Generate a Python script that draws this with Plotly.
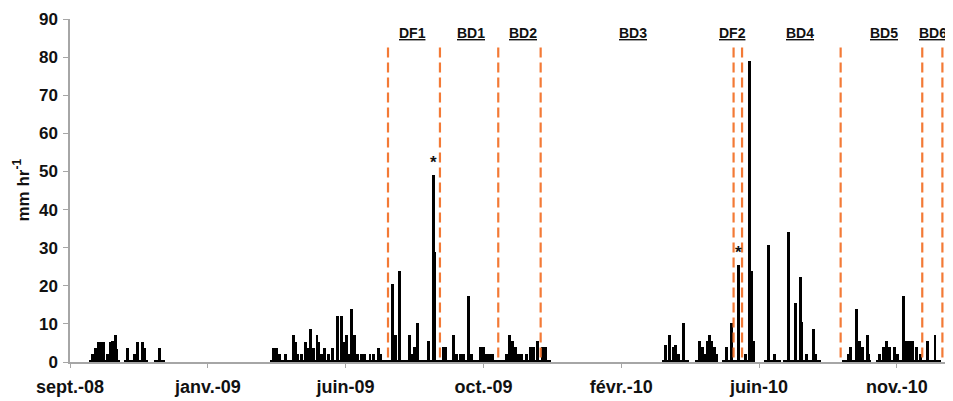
import pandas as pd
import plotly.graph_objects as go

# ---- rainfall intensity bars (mm/hr) ----
bar_dates = [
    # 2008
    "2008-10-07", "2008-10-10", "2008-10-13", "2008-10-16", "2008-10-18", "2008-10-21",
    "2008-10-24", "2008-10-26", "2008-10-29", "2008-10-30", "2008-11-09", "2008-11-16",
    "2008-11-19", "2008-11-23", "2008-11-25", "2008-12-09",
    # 2009
    "2009-03-27", "2009-03-30", "2009-04-02", "2009-04-07", "2009-04-15", "2009-04-17",
    "2009-04-19", "2009-04-22", "2009-04-26", "2009-04-28", "2009-05-01", "2009-05-04",
    "2009-05-07", "2009-05-08", "2009-05-11", "2009-05-14", "2009-05-18", "2009-05-22",
    "2009-05-26", "2009-05-30", "2009-06-02", "2009-06-04", "2009-06-07", "2009-06-09",
    "2009-06-11", "2009-06-14", "2009-06-18", "2009-06-21", "2009-06-26", "2009-06-29",
    "2009-07-04", "2009-07-06", "2009-07-17", "2009-07-20", "2009-07-24", "2009-08-02",
    "2009-08-04", "2009-08-07", "2009-08-10", "2009-08-20", "2009-08-25", "2009-08-26",
    "2009-09-03", "2009-09-05", "2009-09-13", "2009-09-16", "2009-09-19", "2009-09-22",
    "2009-09-27", "2009-09-30", "2009-10-08", "2009-10-11", "2009-10-14", "2009-10-17",
    "2009-10-20", "2009-11-02", "2009-11-05", "2009-11-07", "2009-11-10", "2009-11-13",
    "2009-11-16", "2009-11-21", "2009-11-24", "2009-11-27", "2009-12-01", "2009-12-06",
    "2009-12-09",
    # 2010
    "2010-04-01", "2010-04-05", "2010-04-08", "2010-04-10", "2010-04-13", "2010-04-18",
    "2010-05-03", "2010-05-06", "2010-05-08", "2010-05-10", "2010-05-12", "2010-05-14",
    "2010-05-17", "2010-05-19", "2010-05-28", "2010-06-02", "2010-06-09", "2010-06-15",
    "2010-06-19", "2010-06-21", "2010-06-23", "2010-07-07", "2010-07-13", "2010-07-26",
    "2010-08-01", "2010-08-06", "2010-08-07", "2010-08-12", "2010-08-18", "2010-08-20",
    "2010-09-20", "2010-09-22", "2010-09-28", "2010-10-01", "2010-10-04", "2010-10-08",
    "2010-10-09", "2010-10-20", "2010-10-23", "2010-10-26", "2010-10-29", "2010-11-03",
    "2010-11-06", "2010-11-11", "2010-11-14", "2010-11-17", "2010-11-20", "2010-11-24",
    "2010-11-27", "2010-12-04", "2010-12-11",
]
bar_values = [
    2.0, 3.7, 5.3, 5.3, 5.3, 2.0,
    5.3, 5.5, 7.1, 3.5, 3.7, 2.0,
    5.3, 5.3, 3.7, 3.7,
    3.7, 3.7, 2.2, 2.2, 7.0, 5.2,
    2.2, 2.2, 5.2, 3.7, 8.7, 3.7,
    7.0, 5.2, 2.2, 3.7, 2.2, 3.7,
    12.0, 12.0, 5.2, 7.0, 2.2, 13.8,
    7.0, 2.2, 2.2, 2.2, 2.2, 2.2,
    3.7, 2.2, 20.5, 7.0, 23.9, 7.0,
    2.2, 3.9, 10.3, 5.4, 49.0, 28.8,
    3.9, 3.9, 7.2, 2.2, 2.2, 2.2,
    17.2, 2.2, 3.9, 3.9, 2.2, 2.2,
    2.2, 2.2, 7.2, 5.4, 3.9, 2.2,
    2.2, 2.2, 3.9, 3.9, 5.4, 3.9,
    3.9,
    4.4, 7.2, 3.9, 4.4, 2.2, 10.3,
    5.4, 3.9, 2.2, 5.4, 7.2, 5.4,
    3.9, 2.2, 3.9, 10.3, 25.5, 2.2,
    79.1, 23.8, 5.4, 30.6, 2.2, 34.1,
    15.6, 22.3, 10.5, 2.2, 8.7, 2.2,
    2.2, 3.9, 14.0, 5.4, 3.9, 7.2,
    2.2, 2.2, 3.9, 5.4, 3.9, 3.9,
    2.2, 17.2, 5.4, 5.4, 5.4, 3.9,
    2.2, 5.4, 7.2,
]

# ---- recording periods with very low intensities (dark baseline) ----
low_starts = ["2008-10-04", "2008-11-06", "2008-12-05", "2009-03-24", "2010-03-29",
              "2010-04-29", "2010-05-25", "2010-07-03", "2010-07-21", "2010-09-15", "2010-10-17"]
low_ends = ["2008-11-02", "2008-11-28", "2008-12-14", "2009-12-13", "2010-04-22",
            "2010-05-20", "2010-06-24", "2010-07-18", "2010-08-25", "2010-10-11", "2010-12-16"]
low_values = [0.6, 0.6, 0.6, 0.6, 0.6, 0.6, 0.6, 0.6, 0.6, 0.6, 0.6]

# ---- event boundaries and labels ----
boundary_dates = ["2009-07-13", "2009-08-31", "2009-10-25", "2009-12-04", "2010-06-04",
                  "2010-06-12", "2010-09-13", "2010-11-29", "2010-12-18"]
boundary_top = 82.5
event_labels = ["DF1", "BD1", "BD2", "BD3", "DF2", "BD4", "BD5", "BD6"]
event_label_dates = ["2009-08-05", "2009-09-29", "2009-11-17", "2010-03-01", "2010-06-03",
                     "2010-08-06", "2010-10-24", "2010-12-09"]
event_label_y = 86.2
starred_dates = ["2009-08-25", "2010-06-09"]

# ---- axes ----
tick_dates = ["2008-09-16", "2009-01-24", "2009-06-03", "2009-10-11", "2010-02-18",
              "2010-06-28", "2010-11-05"]
tick_labels = ["sept.-08", "janv.-09", "juin-09", "oct.-09", "févr.-10", "juin-10", "nov.-10"]
x_range = ["2008-09-16", "2010-12-28"]
y_ticks = [0, 10, 20, 30, 40, 50, 60, 70, 80, 90]

DAY_MS = 86400000
FONT = "Liberation Sans, Arial, sans-serif"
AXIS_GREY = "#A6A6A6"
ORANGE = "#F37A36"

fig = go.Figure()

ls = pd.to_datetime(low_starts)
le = pd.to_datetime(low_ends)
mids = ls + (le - ls) / 2
widths = [((b - a).days + 1) * DAY_MS for a, b in zip(ls, le)]
fig.add_trace(go.Bar(x=mids, y=low_values, width=widths, marker=dict(color="#000000", line=dict(width=0)),
                     showlegend=False, hoverinfo="skip"))

fig.add_trace(go.Bar(x=pd.to_datetime(bar_dates), y=bar_values, width=2.8 * DAY_MS,
                     marker=dict(color="#000000", line=dict(width=0)), showlegend=False))

for d in boundary_dates:
    fig.add_shape(type="line", x0=d, x1=d, y0=boundary_top, y1=0, xref="x", yref="y",
                  line=dict(color=ORANGE, width=2.2, dash="10px,5px"), layer="above")

for lab, d in zip(event_labels, event_label_dates):
    fig.add_annotation(x=d, y=event_label_y, xref="x", yref="y", text=f"<b><u>{lab}</u></b>",
                       showarrow=False, font=dict(family=FONT, size=14, color="#111111"),
                       xanchor="center", yanchor="middle")

value_of = dict(zip(bar_dates, bar_values))
for d in starred_dates:
    fig.add_annotation(x=d, y=value_of[d], xref="x", yref="y", text="<b>*</b>",
                       showarrow=False, font=dict(family=FONT, size=17, color="#111111"),
                       xanchor="center", yanchor="bottom", yshift=1)

fig.add_annotation(xref="paper", yref="paper", x=0, y=0.5, xshift=-49, text="<b>mm hr<sup>-1</sup></b>",
                   textangle=-90, showarrow=False, font=dict(family=FONT, size=17, color="#111111"),
                   xanchor="center", yanchor="middle")

# the page adds an 8px body margin, so the figure is sized/margined to compensate
fig.update_layout(
    width=945, height=393,
    margin=dict(l=62, r=0, t=11, b=39),
    paper_bgcolor="white", plot_bgcolor="white",
    barmode="overlay", bargap=0,
    font=dict(family=FONT, color="#111111"),
    showlegend=False,
)
fig.update_xaxes(
    type="date", range=x_range, tickvals=tick_dates, ticktext=[f"<b>{t}</b>" for t in tick_labels],
    showline=True, linecolor=AXIS_GREY, linewidth=1.5, ticks="outside", ticklen=4, tickcolor=AXIS_GREY,
    showgrid=False, zeroline=False, tickfont=dict(family=FONT, size=18, color="#111111"),
    ticklabelstandoff=4,
)
fig.update_yaxes(
    range=[0, 90], tickvals=y_ticks, ticktext=[f"<b>{v}</b>" for v in y_ticks],
    showline=True, linecolor=AXIS_GREY, linewidth=1.5, ticks="outside", ticklen=5, tickcolor=AXIS_GREY,
    showgrid=False, zeroline=False, tickfont=dict(family=FONT, size=17, color="#111111"),
    ticklabelstandoff=2,
)

fig.write_html("out.html")
